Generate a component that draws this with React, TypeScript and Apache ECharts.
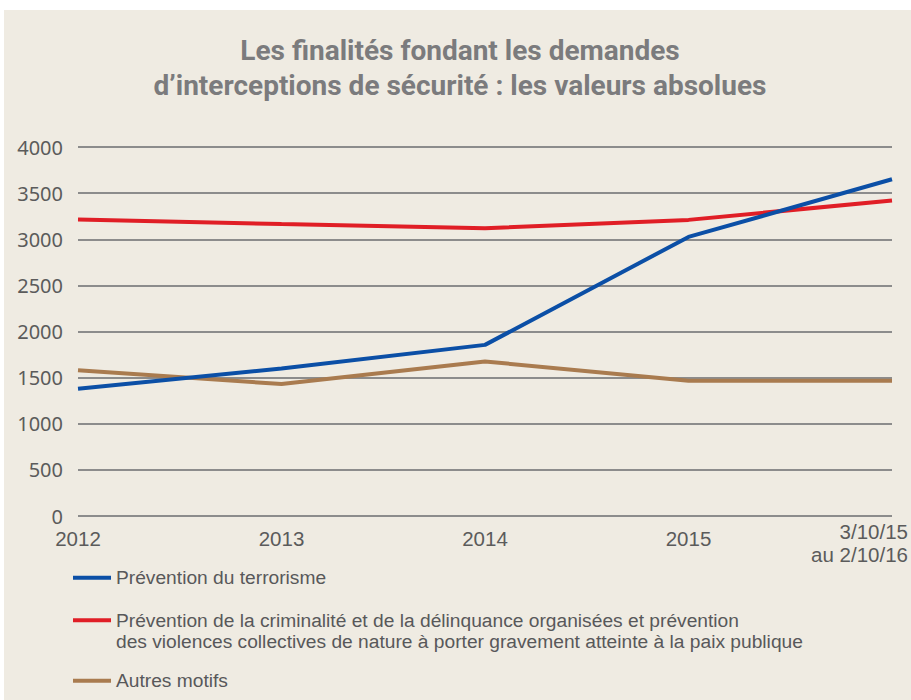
import React, { useEffect, useRef } from "react";
import * as echarts from "echarts";

const categories = ["2012", "2013", "2014", "2015", "3/10/15\nau 2/10/16"];
const terrorisme = [1380, 1600, 1855, 3025, 3650];
const criminalite = [3215, 3165, 3120, 3210, 3420];
const autres = [1580, 1430, 1675, 1465, 1465];
const seriesNames = [
  "Prévention du terrorisme",
  "Prévention de la criminalité et de la délinquance organisées et prévention\ndes violences collectives de nature à porter gravement atteinte à la paix publique",
  "Autres motifs",
];
const titleText = "Les finalités fondant les demandes\nd’interceptions de sécurité : les valeurs absolues";

const COLORS = ["#0b4fa6", "#e01e26", "#a97b4f"];

export default function App() {
  const ref = useRef<HTMLDivElement>(null);
  useEffect(() => {
    const chart = echarts.init(ref.current!, null, { renderer: "svg" });
    const legendTops = [567, 588, 670];
    chart.setOption({
      animation: false,
      backgroundColor: "transparent",
      title: {
        text: titleText,
        left: 455,
        top: 28,
        textAlign: "center",
        textStyle: {
          fontFamily: "Roboto, sans-serif",
          fontSize: 28,
          fontWeight: "bold",
          color: "#7b7b7d",
          lineHeight: 35,
        },
      },
      grid: { left: 78, right: 19, top: 147, bottom: 184, containLabel: false },
      xAxis: {
        type: "category",
        boundaryGap: false,
        data: categories.map((c, i) =>
          i === categories.length - 1
            ? { value: c, textStyle: { align: "right", padding: [-7, -16, 0, 0] } }
            : c
        ),
        axisLine: { show: false },
        axisTick: { show: false },
        axisLabel: {
          margin: 11,
          color: "#5b5b5b",
          fontSize: 20.5,
          fontFamily: "'Liberation Sans', sans-serif",
          lineHeight: 23,
        },
      },
      yAxis: {
        type: "value",
        min: 0,
        max: 4000,
        interval: 500,
        axisLine: { show: false },
        axisTick: { show: false },
        axisLabel: {
          margin: 15,
          color: "#5b5b5b",
          fontSize: 20,
          lineHeight: 18,
          fontFamily: "'Noto Sans', sans-serif",
          formatter: (v: number) => String(v),
        },
        splitLine: { lineStyle: { color: "#8c8c8c", width: 2 } },
      },
      legend: seriesNames.map((n, i) => ({
        data: [n],
        left: 73,
        top: legendTops[i],
        padding: 0,
        icon: "rect",
        itemWidth: 38,
        itemHeight: 4,
        itemGap: 6,
        selectedMode: false,
        formatter: (name: string) => (i === 1 ? "\n" + name : name),
        textStyle: {
          fontFamily: "'Liberation Sans', sans-serif",
          fontSize: 19.2,
          color: "#58585a",
          lineHeight: 21.5,
        },
      })),
      series: [terrorisme, criminalite, autres].map((d, i) => ({
        name: seriesNames[i],
        type: "line",
        data: d,
        symbol: "none",
        lineStyle: { width: 4, color: COLORS[i] },
        itemStyle: { color: COLORS[i] },
        z: 3 - i,
      })),
    });
    return () => chart.dispose();
  }, []);
  return (
    <div style={{ position: "fixed", left: 0, top: 0, width: 911, height: 700, background: "#ffffff" }}>
      <div style={{ position: "absolute", left: 4, top: 10, right: 0, bottom: 0, background: "#efebe2" }} />
      <div ref={ref} style={{ position: "absolute", left: 0, top: 0, width: 911, height: 700 }} />
    </div>
  );
}
